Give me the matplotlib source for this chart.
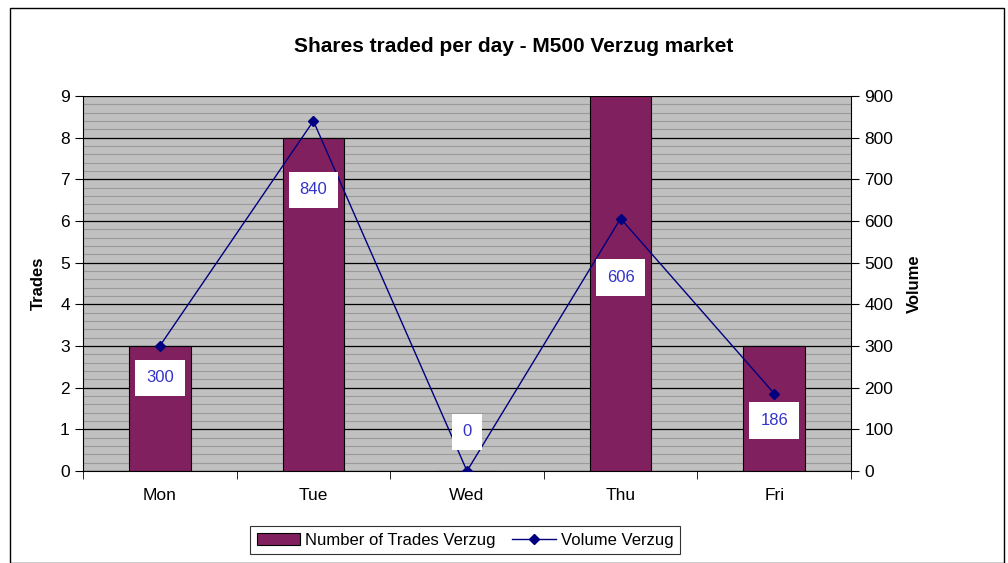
import matplotlib
matplotlib.use("Agg")
import matplotlib.pyplot as plt
import numpy as np
from matplotlib.patches import Rectangle

plt.rcParams['font.family'] = ['Liberation Sans', 'DejaVu Sans']

days = ['Mon', 'Tue', 'Wed', 'Thu', 'Fri']
trades = [3, 8, 0, 9, 3]
volume = [300, 840, 0, 606, 186]
# label offsets (pixels, up is positive) from the volume points, as placed in the original
label_dy = [-32, -69, 39, -59, -27]

fig = plt.figure(figsize=(10.08, 5.63), dpi=100)
fig.patches.append(Rectangle((10/1008, 0.0), 994/1008, 1 - 8/563, transform=fig.transFigure,
                             fill=False, edgecolor='black', linewidth=1.0))

ax = fig.add_axes([83/1008, 1 - 471/563, 768/1008, 375/563])
ax.set_facecolor('#c0c0c0')
x = np.arange(len(days))
bars = ax.bar(x, trades, width=0.4, color='#80205f', edgecolor='black', linewidth=0.8,
              label='Number of Trades Verzug', zorder=3)
ax.set_xlim(-0.5, 4.5)
ax.set_ylim(0, 9)
ax.set_yticks(range(0, 10))
ax.set_yticks(np.arange(0, 9.01, 0.2), minor=True)
ax.tick_params(axis='y', which='minor', length=0)
ax.grid(which='minor', axis='y', color='#9a9a9a', linewidth=0.8, zorder=1)
ax.grid(which='major', axis='y', color='black', linewidth=0.9, zorder=2)
ax.set_xticks(x)
ax.set_xticklabels(days, fontsize=12.5)
ax.tick_params(axis='x', length=0, pad=12)
ax.tick_params(axis='y', labelsize=12.5, direction='out', length=6)
ax.set_xticks(np.arange(-0.5, 5.0, 1.0), minor=True)
ax.tick_params(axis='x', which='minor', length=6, direction='out')
ax.set_ylabel('Trades', fontsize=12, fontweight='bold', labelpad=10)
for s in ['top', 'right']:
    ax.spines[s].set_visible(False)

ax2 = ax.twinx()
line, = ax2.plot(x, volume, color='#000080', marker='D', markersize=5, linewidth=1.0,
                 label='Volume Verzug', zorder=5)
ax2.set_ylim(0, 900)
ax2.set_yticks(range(0, 901, 100))
ax2.tick_params(axis='y', labelsize=12.5, direction='out', length=6)
ax2.set_ylabel('Volume', fontsize=12, fontweight='bold', labelpad=10)
for s in ['top', 'left', 'bottom']:
    ax2.spines[s].set_visible(False)

for xi, v, dy in zip(x, volume, label_dy):
    ax2.annotate(str(v), (xi, v), xytext=(0, dy * 0.72), textcoords='offset points',
                 ha='center', va='center', fontsize=12, color='#3333cc', zorder=6,
                 annotation_clip=False,
                 bbox=dict(boxstyle='square,pad=0.65', facecolor='white', edgecolor='none'))

fig.text(0.51, 1 - 46/563, 'Shares traded per day - M500 Verzug market', ha='center',
         va='center', fontsize=15, fontweight='bold')

leg = fig.legend([bars, line], ['Number of Trades Verzug', 'Volume Verzug'],
                 loc='center', bbox_to_anchor=(465/1008, 1 - 540/563), ncol=2, fontsize=12,
                 frameon=True, fancybox=False, edgecolor='black', handlelength=2.6,
                 columnspacing=1.0, handletextpad=0.3, borderpad=0.4)
leg.get_frame().set_linewidth(0.8)

fig.savefig('out.png', dpi=100)
